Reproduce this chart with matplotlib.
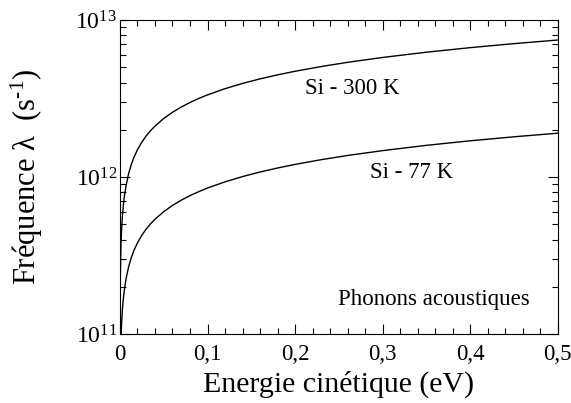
import matplotlib
matplotlib.use("Agg")
import matplotlib.pyplot as plt
from matplotlib.ticker import MultipleLocator, LogLocator, FixedFormatter, NullFormatter

plt.rcParams['font.family'] = ['Liberation Serif', 'DejaVu Serif']
plt.rcParams['mathtext.fontset'] = 'custom'
plt.rcParams['mathtext.rm'] = 'Liberation Serif'
plt.rcParams['mathtext.it'] = 'Liberation Serif:italic'
plt.rcParams['mathtext.default'] = 'regular'

# energie (eV) et frequence (unites de 1e12 s^-1)
energie_300 = [0.0001, 0.0003, 0.0005, 0.001, 0.0015, 0.002, 0.003, 0.004, 0.005, 0.007,
               0.01, 0.013, 0.016, 0.02, 0.025, 0.03, 0.035, 0.04, 0.05, 0.06, 0.07,
               0.08, 0.09, 0.1, 0.12, 0.14, 0.16, 0.18, 0.2, 0.23, 0.26, 0.3, 0.35,
               0.4, 0.45, 0.5]
freq_300 = [0.106, 0.183, 0.236, 0.334, 0.409, 0.472, 0.579, 0.668, 0.747, 0.884,
            1.056, 1.204, 1.336, 1.494, 1.670, 1.830, 1.976, 2.113, 2.362, 2.588, 2.795,
            2.988, 3.169, 3.341, 3.660, 3.953, 4.226, 4.482, 4.725, 5.066, 5.387, 5.786,
            6.250, 6.681, 7.087, 7.47]

energie_77 = [0.0014, 0.002, 0.003, 0.004, 0.005, 0.007, 0.01, 0.013, 0.016, 0.02,
              0.025, 0.03, 0.035, 0.04, 0.05, 0.06, 0.07, 0.08, 0.09, 0.1, 0.12, 0.14,
              0.16, 0.18, 0.2, 0.23, 0.26, 0.3, 0.35, 0.4, 0.45, 0.5]
freq_77 = [0.100, 0.120, 0.148, 0.170, 0.190, 0.225, 0.269, 0.307, 0.341, 0.381,
           0.426, 0.467, 0.504, 0.539, 0.602, 0.660, 0.713, 0.762, 0.808, 0.852, 0.933,
           1.008, 1.078, 1.143, 1.205, 1.292, 1.374, 1.475, 1.594, 1.704, 1.807, 1.905]

xticks = [0, 0.1, 0.2, 0.3, 0.4, 0.5]
xlabels = ['0', '0,1', '0,2', '0,3', '0,4', '0,5']
yticks = [1e11, 1e12, 1e13]
ylabels = ['$10^{11}$', '$10^{12}$', '$10^{13}$']

fig = plt.figure(figsize=(5.71, 4.03), dpi=100)
ax = fig.add_axes([0.210, 0.171, 0.767, 0.779])

ax.plot(energie_300, [f * 1e12 for f in freq_300], color='black', lw=1.0)
ax.plot(energie_77, [f * 1e12 for f in freq_77], color='black', lw=1.0)

ax.set_yscale('log')
ax.set_xlim(0, 0.5)
ax.set_ylim(1e11, 1e13)

ax.set_xticks(xticks)
ax.set_xticklabels(xlabels, fontsize=16.5)
ax.xaxis.set_minor_locator(MultipleLocator(0.02))
ax.set_yticks(yticks)
ax.yaxis.set_major_formatter(FixedFormatter(ylabels))
ax.yaxis.set_minor_locator(LogLocator(base=10, subs=range(2, 10)))
ax.yaxis.set_minor_formatter(NullFormatter())
for lab in ax.get_yticklabels():
    lab.set_fontsize(17)

ax.tick_params(which='both', direction='in', top=True, right=True, width=0.8)
ax.tick_params(which='major', length=7)
ax.tick_params(axis='x', which='major', pad=7)
ax.tick_params(axis='y', which='major', pad=2)
ax.tick_params(which='minor', length=4)
for sp in ax.spines.values():
    sp.set_linewidth(0.8)

ax.set_xlabel('Energie cinétique (eV)', fontsize=21.5, labelpad=4)
ax.set_ylabel('Fréquence λ  (s$^{\u2010 1}$)', fontsize=22)
ax.yaxis.set_label_coords(-0.171, 0.5)

ax.text(0.265, 3.69e12, 'Si - 300 K', fontsize=16.5, ha='center', va='center')
ax.text(0.333, 1.077e12, 'Si - 77 K', fontsize=16.5, ha='center', va='center')
ax.text(0.358, 1.67e11, 'Phonons acoustiques', fontsize=16.5, ha='center', va='center')

fig.savefig('out.png', dpi=100)
